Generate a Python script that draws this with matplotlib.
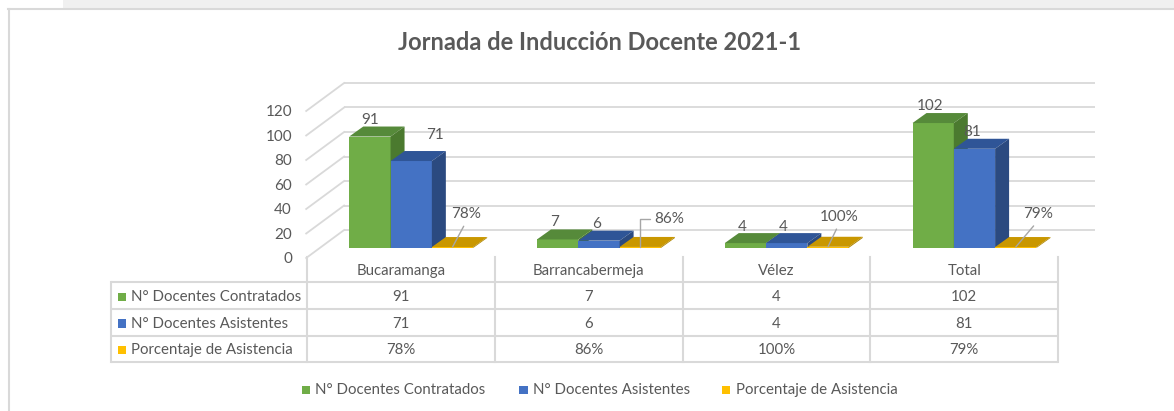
import matplotlib
matplotlib.use("Agg")
import matplotlib.pyplot as plt
from matplotlib.patches import Polygon, Rectangle
from matplotlib.lines import Line2D

# ---------------- data ----------------
categories = ['Bucaramanga', 'Barrancabermeja', 'Vélez', 'Total']
contratados = [91, 7, 4, 102]
asistentes = [71, 6, 4, 81]
porcentaje = [0.78, 0.86, 1.00, 0.79]
series_names = ['N° Docentes Contratados', 'N° Docentes Asistentes', 'Porcentaje de Asistencia']
y_ticks = [0, 20, 40, 60, 80, 100, 120]
title = 'Jornada de Inducción Docente 2021-1'

# ---------------- style ----------------
plt.rcParams['font.family'] = ['Lato', 'DejaVu Sans']
TXT = '#595959'
GRID = '#D9D9D9'
front_cols = ['#70AD47', '#4472C4', '#FFC000']
top_cols = ['#568A3A', '#2F5597', '#C99700']
side_cols = ['#4B7A2F', '#2B4A80', '#B08600']
FS_AX = 11
FS_TAB = 10.8

W, H = 1174, 411
PX_CAT = 187.75      # pixels per category
PX_VAL = 1.225       # pixels per value unit
X0PX, Y0PX = 401.0, 258.0

def X(px):
    return (px - X0PX) / PX_CAT

def Y(py):
    return (Y0PX - py) / PX_VAL

fig = plt.figure(figsize=(W / 100, H / 100), dpi=100)
ax = fig.add_axes([0, 0, 1, 1])
ax.set_xlim(X(0), X(W))
ax.set_ylim(Y(H), Y(0))
ax.axis('off')

# frame / top strip
ax.add_patch(Rectangle((X(63), Y(8)), X(W) - X(63), Y(0) - Y(8), color='#F0F0F0', lw=0, zorder=0))
ax.add_line(Line2D([X(7.5), X(W)], [Y(8.5), Y(8.5)], color='#D9D9D9', lw=1.5))
ax.add_line(Line2D([X(8.5), X(8.5)], [Y(8.5), Y(H)], color='#D9D9D9', lw=1.5))

# depth geometry (data units)
wall_dx, wall_dy = 37 / PX_CAT, 28 / PX_VAL      # floor front -> back wall
bar_sx, bar_sy = 10.2 / PX_CAT, 10 / PX_VAL       # floor front -> bar front
bar_dx, bar_dy = 14 / PX_CAT, 10 / PX_VAL         # bar depth
bw = 41.3 / PX_CAT
n = len(categories)
left_edge = -0.5
right_edge = n - 0.5

# back wall gridlines + slanted left lines + tick labels
for v in y_ticks:
    ax.plot([left_edge + wall_dx, right_edge + wall_dx], [v + wall_dy, v + wall_dy],
            color=GRID, lw=1.3, zorder=1, solid_capstyle='butt')
    ax.plot([left_edge - 0.005, left_edge + wall_dx], [v, v + wall_dy],
            color=GRID, lw=1.3, zorder=1)
    ax.text(X(292), v - 1, str(v), ha='right', va='center', fontsize=FS_AX, color=TXT)

# bars
values = [contratados, asistentes, porcentaje]
bar_geom = []
for i in range(n):
    for j in range(3):
        v = values[j][i]
        xl = i + bar_sx + (j - 1.5) * bw
        xr = xl + bw
        b = bar_sy
        t = b + v
        ax.bar(xl, v, width=bw, bottom=b, align='edge', color=front_cols[j], lw=0, zorder=3)
        ax.add_patch(Polygon([(xl, t), (xr, t), (xr + bar_dx, t + bar_dy), (xl + bar_dx, t + bar_dy)],
                             closed=True, color=top_cols[j], lw=0, zorder=3))
        ax.add_patch(Polygon([(xr, b), (xr + bar_dx, b + bar_dy), (xr + bar_dx, t + bar_dy), (xr, t)],
                             closed=True, color=side_cols[j], lw=0, zorder=3))
        bar_geom.append((i, j, (xl + xr) / 2, t))

# data labels (offsets in pixels from bar top-front centre)
num_offsets = {(0, 0): (0, 17), (0, 1): (24, 26), (1, 0): (-3, 17), (1, 1): (-2, 17),
               (2, 0): (-3, 16), (2, 1): (-3, 16), (3, 0): (-3, 17), (3, 1): (-2, 17)}
pct_offsets = {0: (14, 33), 1: (29, 28), 2: (11, 30), 3: (22, 33)}
for (i, j, xc, t) in bar_geom:
    if j < 2:
        dx, dy = num_offsets[(i, j)]
        ax.annotate(str(values[j][i]), (xc, t), xytext=(dx, dy), textcoords='offset pixels',
                    ha='center', va='center', fontsize=FS_AX, color=TXT, zorder=5)
    else:
        dx, dy = pct_offsets[i]
        lbl = f'{round(values[j][i] * 100)}%'
        if i == 1:
            ap = dict(arrowstyle='-', color='#A6A6A6', lw=1, shrinkA=1, shrinkB=0,
                      connectionstyle='angle,angleA=0,angleB=90,rad=0', relpos=(0, 0.5))
        else:
            ap = dict(arrowstyle='-', color='#A6A6A6', lw=1, shrinkA=2, shrinkB=0, relpos=(0.5, 0))
        ax.annotate(lbl, (xc, t), xytext=(dx, dy), textcoords='offset pixels',
                    ha='center', va='center', fontsize=FS_AX, color=TXT, zorder=5, arrowprops=ap)

# ---------------- data table ----------------
row_lines_px = [282.3, 309.3, 335.7, 362.3]
header_top_px = 257
table_left_px = 111
for py in row_lines_px:
    ax.plot([X(table_left_px), right_edge], [Y(py), Y(py)], color=GRID, lw=1.5, zorder=1,
            solid_capstyle='butt')
ax.plot([X(table_left_px), X(table_left_px)], [Y(row_lines_px[0]), Y(row_lines_px[-1])],
        color=GRID, lw=1.5, zorder=1)
for k in range(n + 1):
    ax.plot([k - 0.5, k - 0.5], [Y(header_top_px), Y(row_lines_px[-1])], color=GRID, lw=1.5, zorder=1)

# header
for i, c in enumerate(categories):
    ax.text(i, Y(271), c, ha='center', va='center', fontsize=FS_TAB, color=TXT)

# rows
row_centers_px = [(row_lines_px[r] + row_lines_px[r + 1]) / 2 + 1 for r in range(3)]
for r in range(3):
    yc = Y(row_centers_px[r])
    sq = 8.5
    ax.add_patch(Rectangle((X(117.5), Y(row_centers_px[r] + sq / 2)), sq / PX_CAT, sq / PX_VAL,
                           color=front_cols[r], lw=0))
    ax.text(X(131), yc, series_names[r], ha='left', va='center', fontsize=FS_TAB, color=TXT)
    for i in range(n):
        v = values[r][i]
        s = f'{round(v * 100)}%' if r == 2 else str(v)
        ax.text(i, yc, s, ha='center', va='center', fontsize=FS_TAB, color=TXT)

# ---------------- legend ----------------
leg_x_px = [301.7, 519.3, 722.0]
leg_y_px = 390
for k in range(3):
    sq = 8.3
    ax.add_patch(Rectangle((X(leg_x_px[k]), Y(leg_y_px + sq / 2)), sq / PX_CAT, sq / PX_VAL,
                           color=front_cols[k], lw=0))
    ax.text(X(leg_x_px[k] + 13.5), Y(leg_y_px), series_names[k], ha='left', va='center',
            fontsize=FS_TAB, color=TXT)

# title
ax.text(X(600), Y(42), title, ha='center', va='center', fontsize=17, fontweight='bold', color=TXT)

fig.savefig('out.png', dpi=100)
